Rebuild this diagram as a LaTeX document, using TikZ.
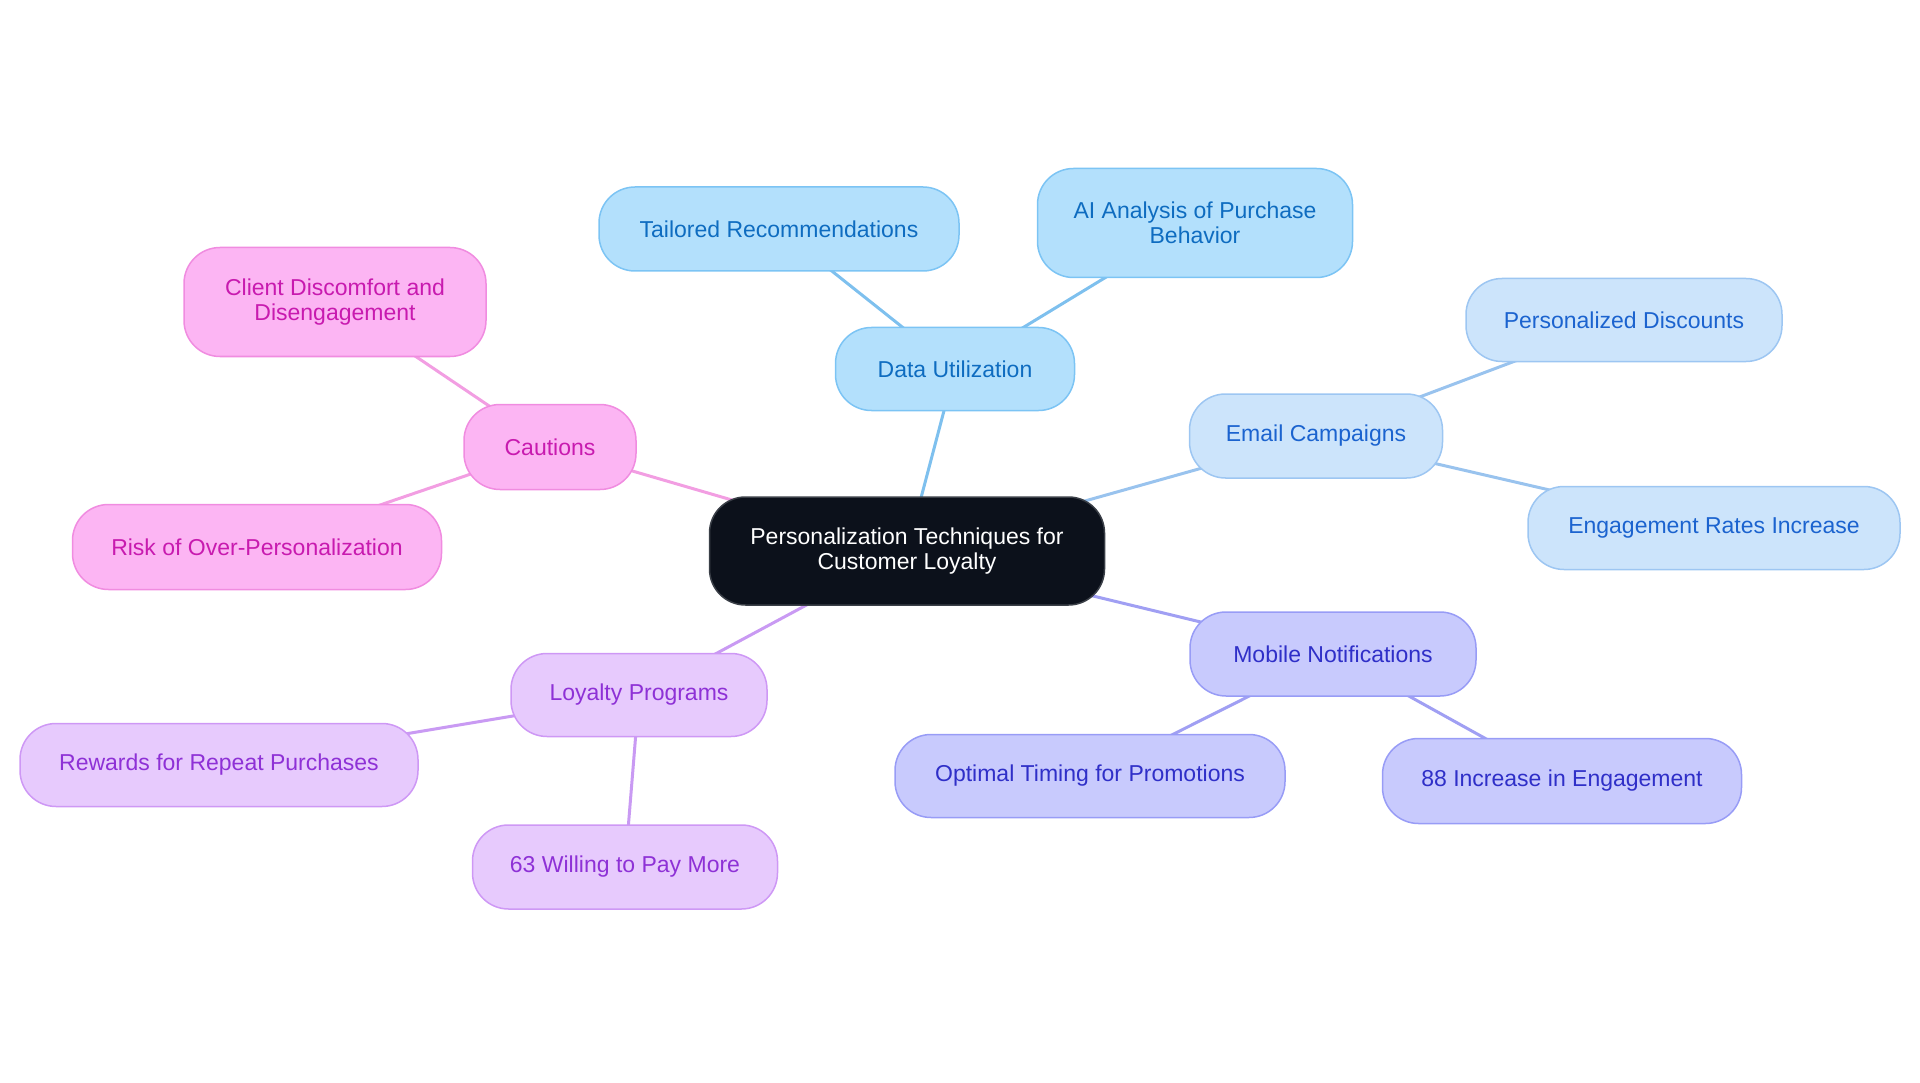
\documentclass[tikz,border=0pt]{standalone}
\usepackage{fontspec}
\setmainfont{Liberation Sans}
\usetikzlibrary{backgrounds}
\definecolor{cfill}{HTML}{0C111B}
\definecolor{cdraw}{HTML}{3A3F47}
\definecolor{dufill}{HTML}{B3E0FC}
\definecolor{dudraw}{HTML}{7CC4F4}
\definecolor{dutext}{HTML}{0E6CC0}
\definecolor{duline}{HTML}{7EC0EE}
\definecolor{ecfill}{HTML}{CCE4FB}
\definecolor{ecdraw}{HTML}{9DC6F2}
\definecolor{ectext}{HTML}{1B63CF}
\definecolor{ecline}{HTML}{99C3EE}
\definecolor{mnfill}{HTML}{C8CAFD}
\definecolor{mndraw}{HTML}{989CF6}
\definecolor{mntext}{HTML}{2F2FC8}
\definecolor{mnline}{HTML}{A09FF3}
\definecolor{lpfill}{HTML}{E7CAFD}
\definecolor{lpdraw}{HTML}{CE98F5}
\definecolor{lptext}{HTML}{8E31D6}
\definecolor{lpline}{HTML}{C99AF3}
\definecolor{cafill}{HTML}{FCB5F3}
\definecolor{cadraw}{HTML}{F08CE0}
\definecolor{catext}{HTML}{C81AAF}
\definecolor{caline}{HTML}{F29EE2}
\begin{document}
\begin{tikzpicture}[x=1pt,y=-1pt,
  box/.style={rounded corners=36pt, line width=1.5pt, inner sep=0pt, align=center,
    font=\fontsize{23pt}{25pt}\selectfont},
  central/.style={box, fill=cfill, draw=cdraw, text=white},
  dubox/.style={box, fill=dufill, draw=dudraw, text=dutext},
  ecbox/.style={box, fill=ecfill, draw=ecdraw, text=ectext},
  mnbox/.style={box, fill=mnfill, draw=mndraw, text=mntext},
  lpbox/.style={box, fill=lpfill, draw=lpdraw, text=lptext},
  cabox/.style={box, fill=cafill, draw=cadraw, text=catext},
  conn/.style={line width=3pt}]
\useasboundingbox (0,0) rectangle (1920,1083);
\node[central, minimum width=395pt, minimum height=108pt] (c) at (907,551) {Personalization Techniques for\\Customer Loyalty};
\node[dubox, minimum width=239pt, minimum height=83pt] (du) at (955,369) {Data Utilization};
\node[dubox, minimum width=360pt, minimum height=84pt] (tr) at (779,229) {Tailored Recommendations};
\node[dubox, minimum width=315pt, minimum height=109pt] (ai) at (1195,223) {AI Analysis of Purchase\\Behavior};
\node[ecbox, minimum width=253pt, minimum height=84pt] (ec) at (1316,436) {Email Campaigns};
\node[ecbox, minimum width=316pt, minimum height=83pt] (pd) at (1624,320) {Personalized Discounts};
\node[ecbox, minimum width=372pt, minimum height=83pt] (eri) at (1714,528) {Engagement Rates Increase};
\node[mnbox, minimum width=286pt, minimum height=84pt] (mn) at (1333,654) {Mobile Notifications};
\node[mnbox, minimum width=390pt, minimum height=83pt] (ot) at (1090,776) {Optimal Timing for Promotions};
\node[mnbox, minimum width=359pt, minimum height=85pt] (inc) at (1562,781) {88 Increase in Engagement};
\node[lpbox, minimum width=256pt, minimum height=83pt] (lp) at (639,695) {Loyalty Programs};
\node[lpbox, minimum width=398pt, minimum height=83pt] (rr) at (219,765) {Rewards for Repeat Purchases};
\node[lpbox, minimum width=305pt, minimum height=84pt] (wp) at (625,867) {63 Willing to Pay More};
\node[cabox, minimum width=172pt, minimum height=85pt] (ca) at (550,447) {Cautions};
\node[cabox, minimum width=302pt, minimum height=109pt] (cd) at (335,302) {Client Discomfort and\\Disengagement};
\node[cabox, minimum width=369pt, minimum height=85pt] (ro) at (257,547) {Risk of Over-Personalization};
\begin{scope}[on background layer]
\draw[conn, duline] (c.center) -- (du.center);
\draw[conn, duline] (du.center) -- (tr.center);
\draw[conn, duline] (du.center) -- (ai.center);
\draw[conn, ecline] (c.center) -- (ec.center);
\draw[conn, ecline] (ec.center) -- (pd.center);
\draw[conn, ecline] (ec.center) -- (eri.center);
\draw[conn, mnline] (c.center) -- (mn.center);
\draw[conn, mnline] (mn.center) -- (ot.center);
\draw[conn, mnline] (mn.center) -- (inc.center);
\draw[conn, lpline] (c.center) -- (lp.center);
\draw[conn, lpline] (lp.center) -- (rr.center);
\draw[conn, lpline] (lp.center) -- (wp.center);
\draw[conn, caline] (c.center) -- (ca.center);
\draw[conn, caline] (ca.center) -- (cd.center);
\draw[conn, caline] (ca.center) -- (ro.center);
\end{scope}
\end{tikzpicture}
\end{document}
